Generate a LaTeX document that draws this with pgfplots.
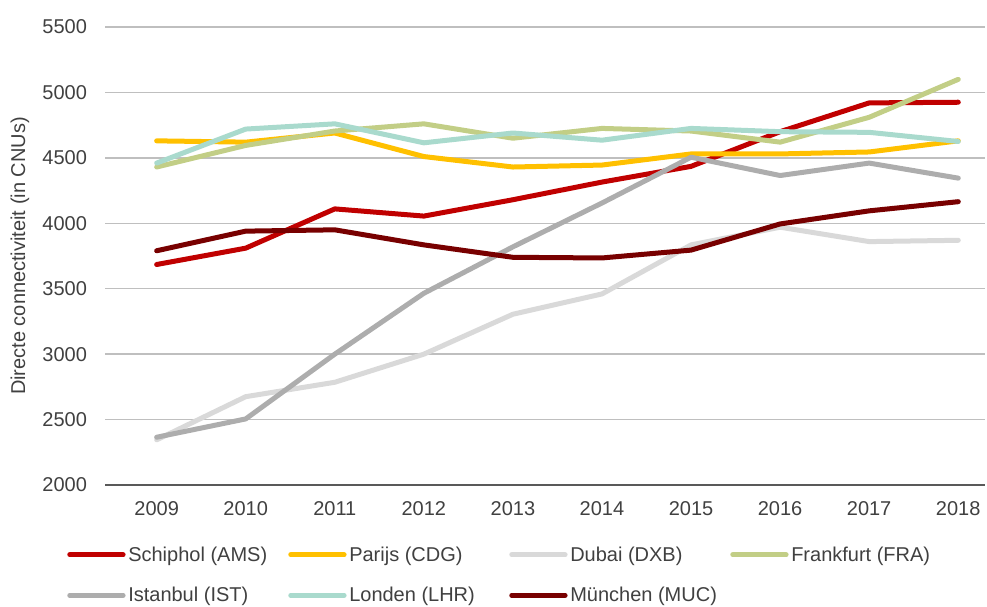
\documentclass[border=0pt]{standalone}
\usepackage{pgfplots}
\pgfplotsset{compat=1.18}
\usepackage{fontspec}
\setmainfont{Liberation Sans}
\definecolor{cAMS}{HTML}{C00000}
\definecolor{cCDG}{HTML}{FFC000}
\definecolor{cDXB}{HTML}{D9D9D9}
\definecolor{cFRA}{HTML}{C2CE86}
\definecolor{cIST}{HTML}{ADADAD}
\definecolor{cLHR}{HTML}{A9DACD}
\definecolor{cMUC}{HTML}{780000}
\definecolor{grid}{HTML}{D9D9D9}
\definecolor{txt}{HTML}{404040}
\begin{document}
\begin{tikzpicture}
\useasboundingbox (0pt,0pt) rectangle (740.25pt,454.5pt);
\begin{axis}[
  at={(78.75pt,90.75pt)}, anchor=south west,
  scale only axis, width=660pt, height=343.5pt,
  xmin=2008.42, xmax=2018.3, ymin=2000, ymax=5500,
  xtick={2009,...,2018}, ytick={2000,2500,...,5500},
  xticklabel style={/pgf/number format/1000 sep={}},
  yticklabel style={/pgf/number format/1000 sep={}},
  /pgf/number format/assume math mode=true,
  xmajorgrids=false, ymajorgrids=true,
  major tick length=0pt,
  tick style={draw=none},
  axis line style={draw=none},
  major grid style={grid, line width=1.1pt},
  ticklabel style={font=\fontsize{15}{18}\selectfont, text=txt},
  xticklabel shift=9pt, yticklabel shift=10pt,
  ylabel={Directe connectiviteit (in CNUs)},
  ylabel style={font=\fontsize{15}{18}\selectfont, text=txt},
  ylabel shift=3pt,
  every axis plot/.append style={line width=3.75pt, line cap=round, line join=round},
  legend columns=4,
  legend style={at={(-28.5pt,-44pt)}, anchor=north west, draw=none, fill=none,
    font=\fontsize{15}{18}\selectfont, text=txt,
    /tikz/every even column/.append style={column sep=0pt},
    row sep=14pt, inner sep=0pt},
  legend cell align=left,
  legend image code/.code={\draw[#1, line width=3.75pt, line cap=round] (0pt,0pt) -- (40pt,0pt);},
]
\addplot[cAMS] coordinates {(2009,3685) (2010,3810) (2011,4110) (2012,4055) (2013,4180) (2014,4315) (2015,4435) (2016,4700) (2017,4920) (2018,4925)};
\addlegendentry{\makebox[118pt][l]{Schiphol (AMS)}}
\addplot[cCDG] coordinates {(2009,4630) (2010,4620) (2011,4690) (2012,4510) (2013,4430) (2014,4445) (2015,4530) (2016,4530) (2017,4545) (2018,4630)};
\addlegendentry{\makebox[118pt][l]{Parijs (CDG)}}
\addplot[cDXB] coordinates {(2009,2345) (2010,2675) (2011,2785) (2012,3000) (2013,3305) (2014,3460) (2015,3835) (2016,3970) (2017,3860) (2018,3870)};
\addlegendentry{\makebox[118pt][l]{Dubai (DXB)}}
\addplot[cFRA] coordinates {(2009,4430) (2010,4595) (2011,4705) (2012,4760) (2013,4650) (2014,4725) (2015,4705) (2016,4620) (2017,4810) (2018,5100)};
\addlegendentry{\makebox[118pt][l]{Frankfurt (FRA)}}
\addplot[cIST] coordinates {(2009,2365) (2010,2505) (2011,3000) (2012,3465) (2013,3820) (2014,4155) (2015,4505) (2016,4365) (2017,4460) (2018,4345)};
\addlegendentry{\makebox[118pt][l]{Istanbul (IST)}}
\addplot[cLHR] coordinates {(2009,4460) (2010,4720) (2011,4760) (2012,4615) (2013,4690) (2014,4635) (2015,4725) (2016,4700) (2017,4695) (2018,4625)};
\addlegendentry{\makebox[118pt][l]{Londen (LHR)}}
\addplot[cMUC] coordinates {(2009,3790) (2010,3940) (2011,3950) (2012,3835) (2013,3740) (2014,3735) (2015,3795) (2016,3995) (2017,4095) (2018,4165)};
\addlegendentry{\makebox[118pt][l]{München (MUC)}}
\draw[black!65, line width=0.9pt] (axis cs:2008.42,2000) -- (axis cs:2018.3,2000);
\end{axis}
\end{tikzpicture}
\end{document}
